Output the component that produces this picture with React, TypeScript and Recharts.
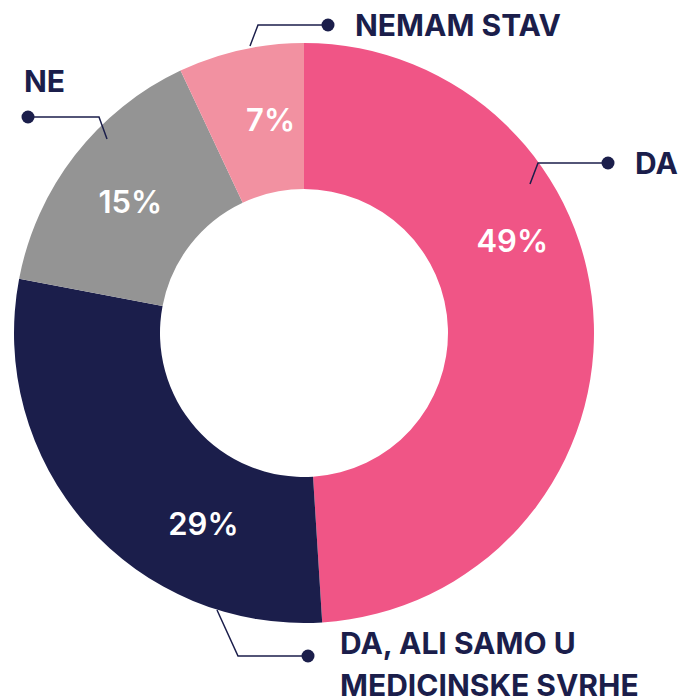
import { Cell, Pie, PieChart } from "recharts";

const names = ["DA", "DA, ALI SAMO U MEDICINSKE SVRHE", "NE", "NEMAM STAV"];
const values = [49, 29, 15, 7];
const colors = ["#F05586", "#1B1E4B", "#949494", "#F291A1"];

const navy = "#1B1E4B";
const font = "Inter, 'DejaVu Sans', sans-serif";

// nudges for where the percent text sits (deg clockwise, radius)
const percentSpot: Record<string, { shift: number; r: number }> = {
  DA: { shift: -22.2, r: 228 },
  "DA, ALI SAMO U MEDICINSKE SVRHE": { shift: -20.7, r: 215 },
  NE: { shift: -0.6, r: 218 },
  "NEMAM STAV": { shift: 3.7, r: 216 },
};

// callouts relative to pie center
const callouts: Record<
  string,
  { ax: number; ay: number; ex: number; ey: number; run: number; lines: string[]; tx: number; ty: number }
> = {
  DA: { ax: 226, ay: -149, ex: 8, ey: -21, run: 70, lines: ["DA"], tx: 27, ty: 11 },
  "DA, ALI SAMO U MEDICINSKE SVRHE": {
    ax: -87,
    ay: 277,
    ex: 21,
    ey: 46,
    run: 70,
    lines: ["DA, ALI SAMO U", "MEDICINSKE SVRHE"],
    tx: 32,
    ty: -2,
  },
  NE: { ax: -197, ay: -194, ex: -8, ey: -22, run: -71, lines: ["NE"], tx: -4, ty: -25 },
  "NEMAM STAV": { ax: -54, ay: -287, ex: 8, ey: -21, run: 70, lines: ["NEMAM STAV"], tx: 27, ty: 11 },
};

const data = names.map((name, i) => ({ name, value: values[i] }));

function renderLabel(props: any) {
  const { cx, cy, midAngle, name, value } = props;
  const spot = percentSpot[name];
  const clockwise = 90 - midAngle + spot.shift;
  const rad = (clockwise * Math.PI) / 180;
  const px = cx + spot.r * Math.sin(rad);
  const py = cy - spot.r * Math.cos(rad);

  const c = callouts[name];
  const x0 = cx + c.ax;
  const y0 = cy + c.ay;
  const x1 = x0 + c.ex;
  const y1 = y0 + c.ey;
  const x2 = x1 + c.run;

  return (
    <g>
      <text
        x={px}
        y={py}
        fill="#fff"
        textAnchor="middle"
        dominantBaseline="central"
        fontFamily={font}
        fontSize={31}
        fontWeight={600}
      >
        {value}%
      </text>
      <polyline points={`${x0},${y0} ${x1},${y1} ${x2},${y1}`} fill="none" stroke={navy} strokeWidth={1.5} />
      <circle cx={x2} cy={y1} r={6.5} fill={navy} />
      {c.lines.map((line, i) => (
        <text
          key={line}
          x={x2 + c.tx}
          y={y1 + c.ty + i * 42}
          fill={navy}
          fontFamily={font}
          fontSize={30}
          fontWeight={700}
        >
          {line}
        </text>
      ))}
    </g>
  );
}

export default function App() {
  return (
    <div style={{ position: "absolute", left: 0, top: 0, width: 678, height: 698 }}>
      <PieChart width={678} height={698} margin={{ top: 0, right: 0, bottom: 0, left: 0 }}>
        <Pie
          data={data}
          dataKey="value"
          nameKey="name"
          cx={304}
          cy={333}
          innerRadius={144}
          outerRadius={290}
          startAngle={90}
          endAngle={-270}
          stroke="none"
          labelLine={false}
          label={renderLabel}
          isAnimationActive={false}
        >
          {data.map((entry, i) => (
            <Cell key={entry.name} fill={colors[i]} />
          ))}
        </Pie>
      </PieChart>
    </div>
  );
}
